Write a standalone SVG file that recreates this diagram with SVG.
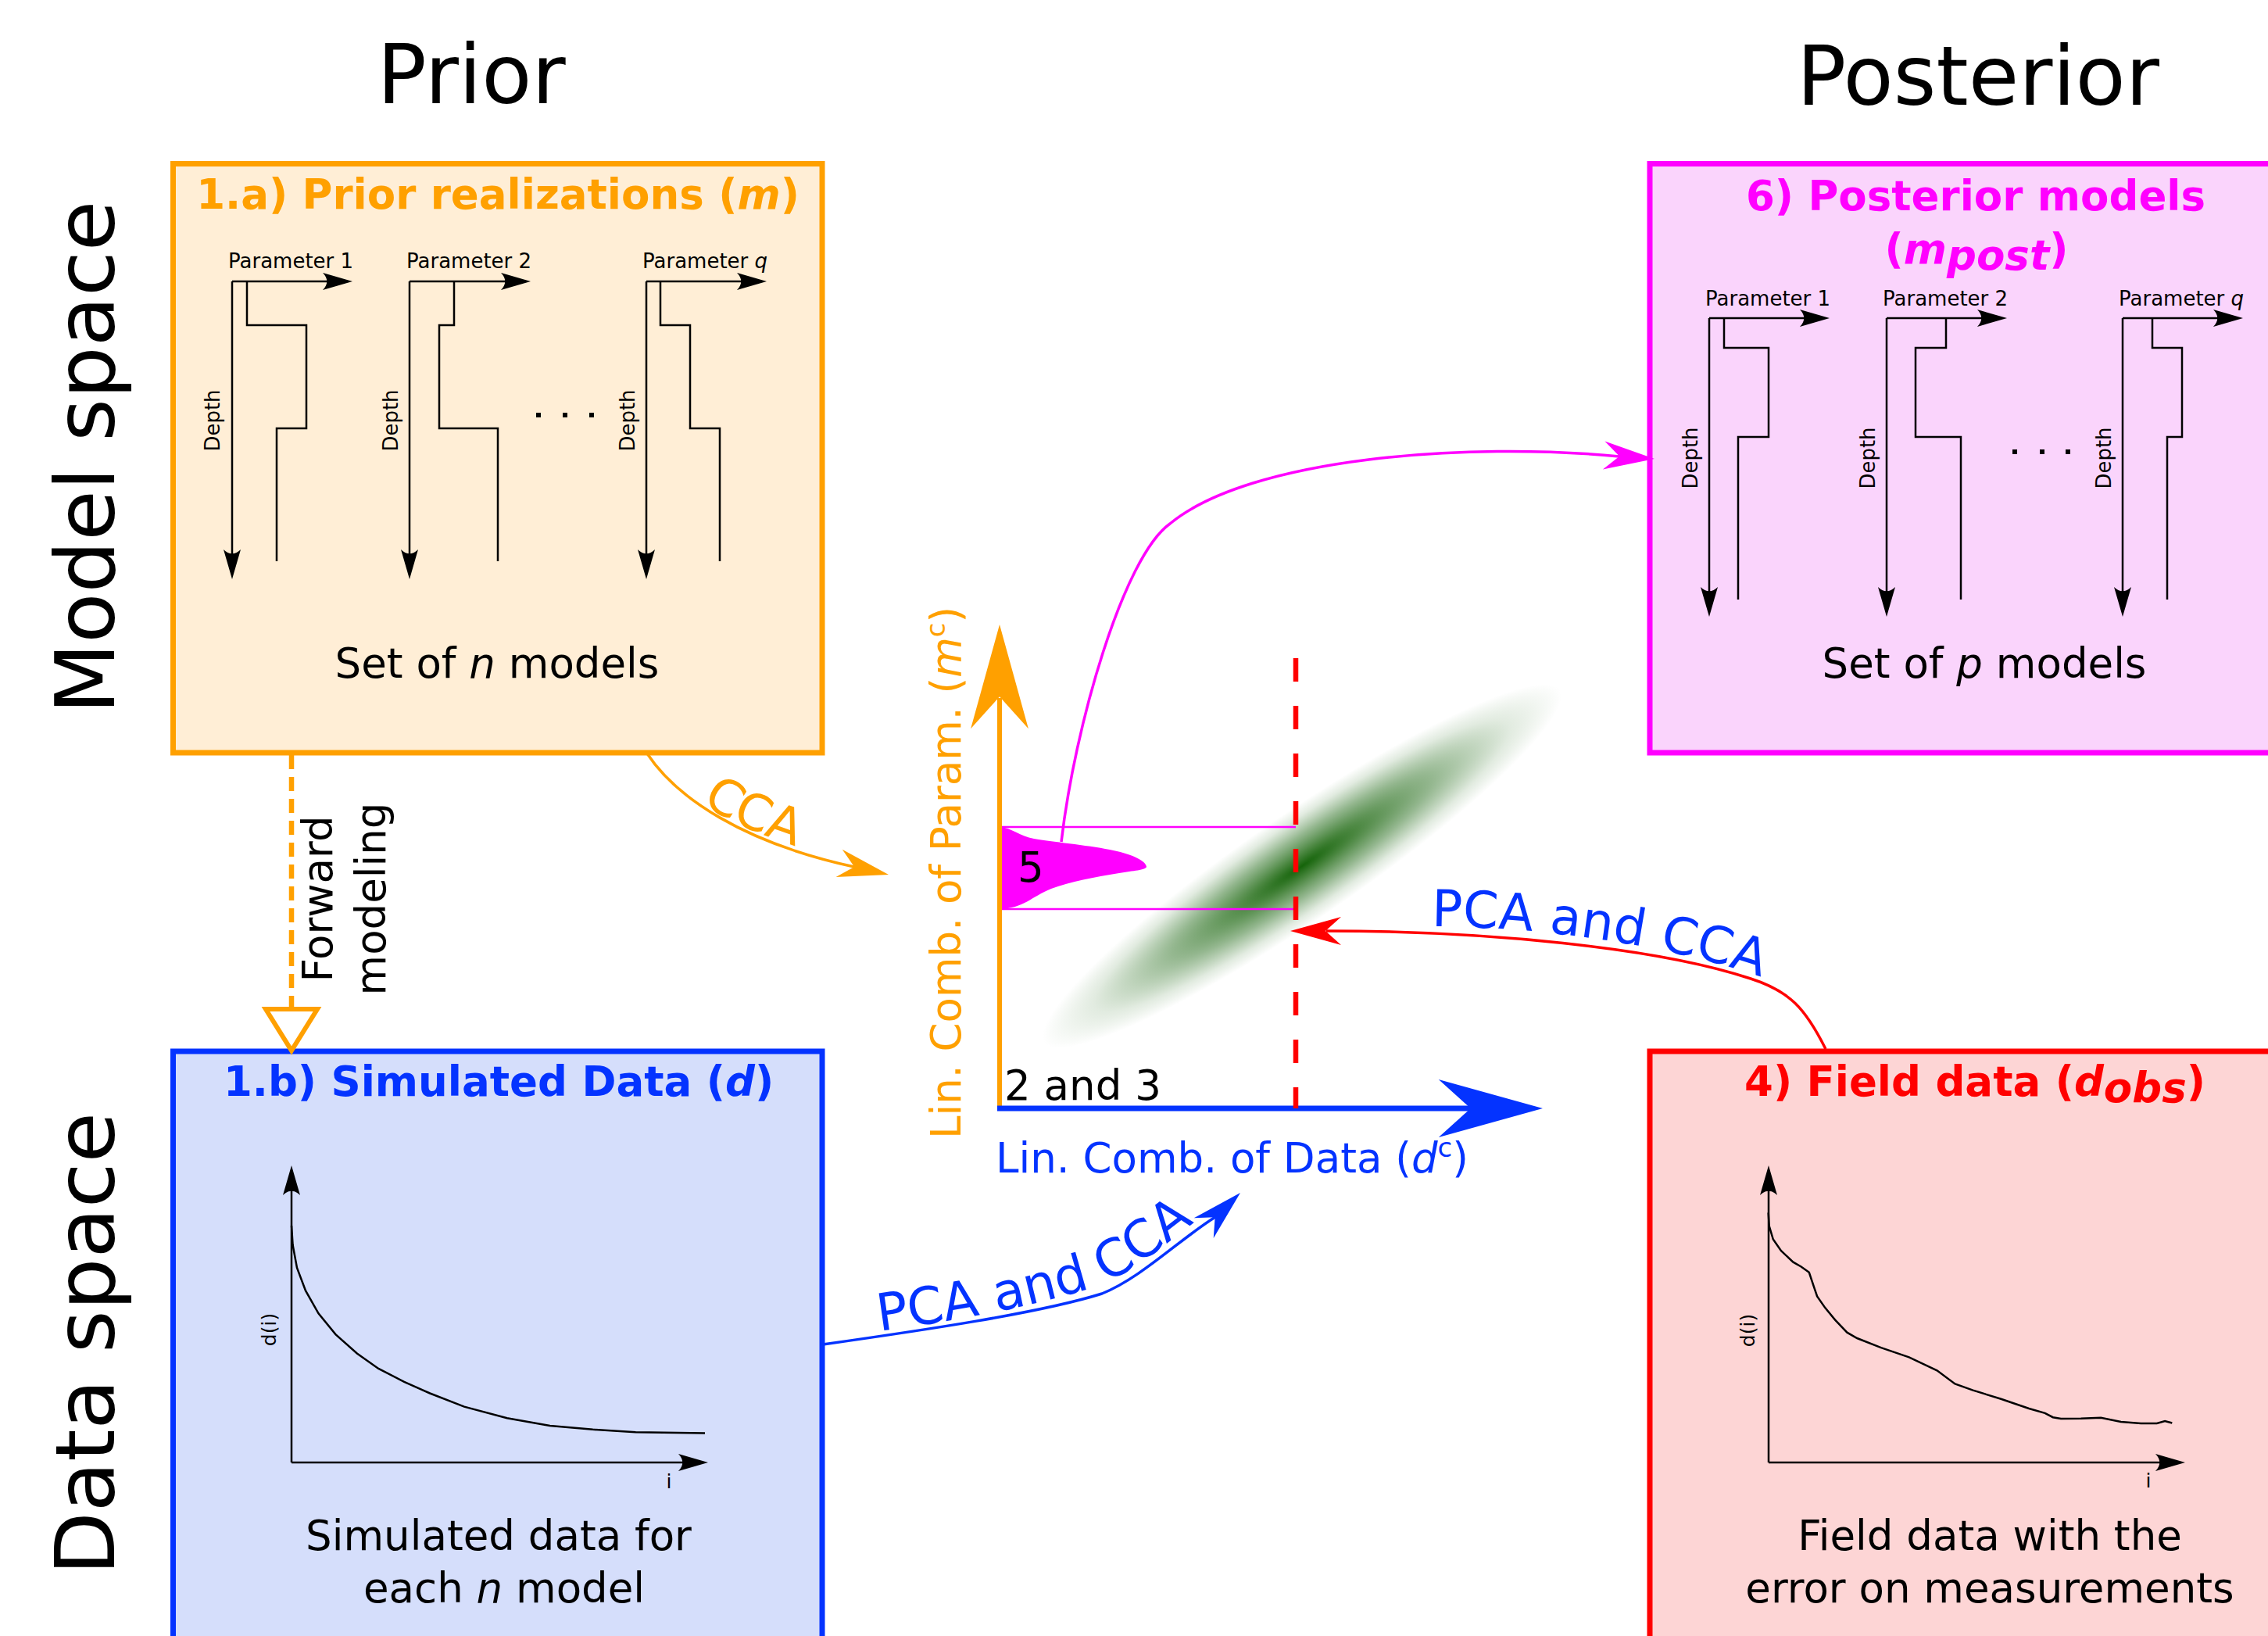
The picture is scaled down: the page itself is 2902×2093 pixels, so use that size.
<svg xmlns="http://www.w3.org/2000/svg" width="2902" height="2093" viewBox="0 0 2902 2093">
<style>
  text { font-family: "DejaVu Sans", "Liberation Sans", sans-serif; }
  .big { font-size: 105px; fill: #000; }
  .hdr { font-size: 53px; font-weight: bold; text-anchor: middle; }
  .body { font-size: 53px; fill: #000; }
  .lbl { font-size: 26px; fill: #000; }
  .tick { font-size: 25px; fill: #000; }
  .ln { fill: none; stroke: #000; stroke-width: 2.5; }
  .arr { fill: none; stroke: #000; stroke-width: 2.5; marker-end: url(#ah); }
  .box { stroke-width: 7; }
  .orange { fill: #ffa000; }
  .blue { fill: #0433ff; }
  .red { fill: #ff0000; }
  .mag { fill: #ff00ff; }
  .it { font-style: italic; }
</style>
<defs>
  <!-- small black arrowhead for chart axes -->
  <marker id="ah" markerUnits="userSpaceOnUse" orient="auto" viewBox="-40 -15 40 30" markerWidth="40" markerHeight="30" refX="-8" refY="0">
    <path d="M0,0 L-38,-11 C-31,-4 -31,4 -38,11 Z" fill="#000"/>
  </marker>
  <!-- large connector arrowhead, tip at origin pointing +x -->
  <path id="head" d="M0,0 L-65,-18 L-45,0 L-65,18 Z"/>
  <radialGradient id="cloud" cx="0.5" cy="0.5" r="0.5">
    <stop offset="0" stop-color="#15640a" stop-opacity="1"/>
    <stop offset="0.2" stop-color="#1c680f" stop-opacity="0.8"/>
    <stop offset="0.5" stop-color="#2a7020" stop-opacity="0.5"/>
    <stop offset="0.8" stop-color="#3a7a30" stop-opacity="0.15"/>
    <stop offset="1" stop-color="#3a7a30" stop-opacity="0"/>
  </radialGradient>
  <path id="tpOrange" d="M898,1026 C925,1048 960,1063 1016,1082 L1090,1104"/>
  <path id="tpBlue" d="M1125,1703 C1250,1686 1340,1666 1405,1645 C1450,1628 1490,1592 1540,1555"/>
  <path id="tpRed" d="M1832,1185 C1960,1186 2110,1204 2236,1244 L2300,1272"/>
</defs>

<rect x="0" y="0" width="2902" height="2093" fill="#fff"/>

<!-- column and row headings -->
<g id="headings">
  <text class="big" x="603" y="132" text-anchor="middle">Prior</text>
  <text class="big" x="2531" y="134" text-anchor="middle">Posterior</text>
  <text class="big" transform="translate(146,585) rotate(-90)" text-anchor="middle">Model space</text>
  <text class="big" transform="translate(146,1719) rotate(-90)" text-anchor="middle">Data space</text>
</g>

<!-- 1.a prior realizations -->
<g id="prior-realizations">
  <rect class="box" x="221.5" y="209.5" width="830.5" height="753.5" fill="#ffeed6" stroke="#ffa000"/>
  <text class="hdr orange" x="637" y="267">1.a) Prior realizations (<tspan class="it">m</tspan>)</text>
  <text class="lbl" x="292" y="343">Parameter 1</text>
  <text class="lbl" x="520" y="343">Parameter 2</text>
  <text class="lbl" x="822" y="343">Parameter <tspan class="it">q</tspan></text>
  <path class="arr" d="M297,360 H443"/>
  <path class="arr" d="M297,360 V733"/>
  <path class="arr" d="M524,360 H671"/>
  <path class="arr" d="M524,360 V733"/>
  <path class="arr" d="M827,360 H973"/>
  <path class="arr" d="M827,360 V733"/>
  <path class="ln" d="M316,360 V416 H392 V548 H354 V718"/>
  <path class="ln" d="M581,360 V416 H562 V548 H637 V718"/>
  <path class="ln" d="M845,360 V416 H883 V548 H921 V718"/>
  <text class="lbl" transform="translate(281,538) rotate(-90)" text-anchor="middle">Depth</text>
  <text class="lbl" transform="translate(509,538) rotate(-90)" text-anchor="middle">Depth</text>
  <text class="lbl" transform="translate(812,538) rotate(-90)" text-anchor="middle">Depth</text>
  <rect x="686" y="528" width="6" height="6"/>
  <rect x="720" y="528" width="6" height="6"/>
  <rect x="754" y="528" width="6" height="6"/>
  <text class="body" x="636" y="867" text-anchor="middle">Set of <tspan class="it">n</tspan> models</text>
</g>

<!-- 6 posterior models -->
<g id="posterior-models">
  <rect class="box" x="2111" y="209.5" width="820" height="753.5" fill="#fad4fc" stroke="#ff00ff"/>
  <text class="hdr mag" x="2528" y="269">6) Posterior models</text>
  <text class="hdr mag" x="2529" y="337">(<tspan class="it">m</tspan><tspan class="it" dy="8">post</tspan><tspan dy="-8">)</tspan></text>
  <text class="lbl" x="2182" y="391">Parameter 1</text>
  <text class="lbl" x="2409" y="391">Parameter 2</text>
  <text class="lbl" x="2711" y="391">Parameter <tspan class="it">q</tspan></text>
  <path class="arr" d="M2187,407 H2333"/>
  <path class="arr" d="M2187,407 V781"/>
  <path class="arr" d="M2414,407 H2560"/>
  <path class="arr" d="M2414,407 V781"/>
  <path class="arr" d="M2716,407 H2862"/>
  <path class="arr" d="M2716,407 V781"/>
  <path class="ln" d="M2206,407 V445 H2263 V559 H2224 V767"/>
  <path class="ln" d="M2490,407 V445 H2451 V559 H2509 V767"/>
  <path class="ln" d="M2754,407 V445 H2792 V559 H2773 V767"/>
  <text class="lbl" transform="translate(2172,586) rotate(-90)" text-anchor="middle">Depth</text>
  <text class="lbl" transform="translate(2399,586) rotate(-90)" text-anchor="middle">Depth</text>
  <text class="lbl" transform="translate(2701,586) rotate(-90)" text-anchor="middle">Depth</text>
  <rect x="2575" y="575" width="6" height="6"/>
  <rect x="2610" y="575" width="6" height="6"/>
  <rect x="2643" y="575" width="6" height="6"/>
  <text class="body" x="2539" y="867" text-anchor="middle">Set of <tspan class="it">p</tspan> models</text>
</g>

<!-- 1.b simulated data -->
<g id="simulated-data">
  <rect class="box" x="221.5" y="1345" width="830.5" height="800" fill="#d5defb" stroke="#0433ff"/>
  <text class="hdr blue" x="638" y="1402">1.b) Simulated Data (<tspan class="it">d</tspan>)</text>
  <path class="arr" d="M373,1871 V1499"/>
  <path class="arr" d="M373,1871 H898"/>
  <polyline class="ln" points="373,1568 374.6,1592.8 380,1622 391,1651.2 407.5,1680.4 429.4,1707.1 456.8,1731.4 484.3,1750.9 517.2,1767.9 550.1,1782.5 594,1799.6 648.8,1814.2 703.7,1823.9 758.5,1828.8 813.3,1832.2 902,1833.6"/>
  <text class="tick" transform="translate(353,1701) rotate(-90)" text-anchor="middle">d(i)</text>
  <text class="tick" x="856" y="1904" text-anchor="middle">i</text>
  <text class="body" x="638" y="1983" text-anchor="middle">Simulated data for</text>
  <text class="body" x="645" y="2050" text-anchor="middle">each <tspan class="it">n</tspan> model</text>
</g>

<!-- 4 field data -->
<g id="field-data">
  <rect class="box" x="2111" y="1345" width="820" height="800" fill="#fdd5d5" stroke="#ff0000"/>
  <text class="hdr red" x="2527" y="1402">4) Field data (<tspan class="it">d</tspan><tspan class="it" dy="8">obs</tspan><tspan dy="-8">)</tspan></text>
  <path class="arr" d="M2263,1871 V1499"/>
  <path class="arr" d="M2263,1871 H2788"/>
  <polyline class="ln" points="2262.7,1551.4 2263.7,1568.4 2268.8,1585.5 2279,1600.1 2294.4,1614.7 2304.6,1620.5 2314.8,1627.8 2321,1646.3 2325.1,1658.5 2335.3,1673.1 2348.1,1688.6 2363.4,1704.7 2376.2,1712 2406.9,1724.1 2442.7,1736.3 2478.5,1753.3 2501.5,1770.4 2524.5,1778.6 2560.4,1789.8 2596.2,1802 2616.6,1807.8 2626.8,1813.2 2637.1,1815.1 2662.7,1814.7 2688.2,1813.7 2713.8,1819 2739.4,1821 2759.8,1821 2770.1,1818 2779.3,1820.5"/>
  <text class="tick" transform="translate(2245,1702) rotate(-90)" text-anchor="middle">d(i)</text>
  <text class="tick" x="2749" y="1903" text-anchor="middle">i</text>
  <text class="body" x="2546" y="1983" text-anchor="middle">Field data with the</text>
  <text class="body" x="2546" y="2050" text-anchor="middle">error on measurements</text>
</g>

<!-- canonical space: scatter cloud, axes, conditional distribution -->
<g id="cca-plot">
  <ellipse cx="1666" cy="1108" rx="400" ry="68" fill="url(#cloud)" transform="rotate(-34.4 1666 1108)"/>
  <path d="M1279,1058 H1658 M1279,1163 H1658" fill="none" stroke="#ff00ff" stroke-width="2.5"/>
  <path class="mag" d="M1279,1058 C1295,1059 1305,1070 1323,1073 C1345,1077 1390,1081 1420,1087 C1445,1092 1466,1100 1467,1109 C1466,1113 1450,1114 1432,1117 C1400,1122 1370,1128 1345,1137 C1320,1147 1310,1162 1279,1163 Z"/>
  <text class="body" x="1302" y="1128">5</text>
  <path d="M1279,1418 V893" fill="none" stroke="#ffa000" stroke-width="6"/>
  <use href="#head" class="orange" transform="translate(1279,799) rotate(-90) scale(2.05)"/>
  <path d="M1276,1418 H1882" fill="none" stroke="#0433ff" stroke-width="7"/>
  <use href="#head" class="blue" transform="translate(1974,1418) scale(2.05)"/>
  <path d="M1658,842 V1418" fill="none" stroke="#ff0000" stroke-width="6.5" stroke-dasharray="30 31"/>
  <text class="body" x="1285" y="1407">2 and 3</text>
  <text class="body blue" x="1274" y="1500">Lin. Comb. of Data (<tspan class="it">d</tspan><tspan font-size="34" dy="-20">c</tspan><tspan dy="20">)</tspan></text>
  <text class="body orange" transform="translate(1229,1457) rotate(-90)">Lin. Comb. of Param. (<tspan class="it">m</tspan><tspan font-size="34" dy="-20">c</tspan><tspan dy="20">)</tspan></text>
</g>

<g id="connectors">
  <!-- forward modeling -->
  <path d="M373,966 V1289" fill="none" stroke="#ffa000" stroke-width="6.5" stroke-dasharray="18 10"/>
  <path d="M340,1291 H406 L373,1344 Z" fill="#fff" stroke="#ffa000" stroke-width="6" stroke-linejoin="miter"/>
  <text class="body" transform="translate(425,1150) rotate(-90)" text-anchor="middle">Forward<tspan x="0" dy="68">modeling</tspan></text>

  <!-- CCA from prior models -->
  <path d="M828,964 C865,1020 950,1078 1093,1109" fill="none" stroke="#ffa000" stroke-width="3.5"/>
  <use href="#head" class="orange" transform="translate(1137,1119) rotate(13)"/>
  <text font-size="64" class="orange"><textPath href="#tpOrange">CCA</textPath></text>

  <!-- PCA and CCA from simulated data -->
  <path d="M1053,1720 C1180,1702 1330,1680 1410,1655 C1460,1635 1510,1585 1555,1557" fill="none" stroke="#0433ff" stroke-width="3.5"/>
  <use href="#head" class="blue" transform="translate(1587,1526) rotate(-44)"/>
  <text font-size="66" class="blue"><textPath href="#tpBlue">PCA and CCA</textPath></text>

  <!-- PCA and CCA from field data -->
  <path d="M2336,1342 C2310,1290 2290,1268 2240,1252 C2120,1212 1900,1191 1697,1191" fill="none" stroke="#ff0000" stroke-width="3.5"/>
  <use href="#head" class="red" transform="translate(1651,1191) rotate(180)"/>
  <text font-size="65" class="blue"><textPath href="#tpRed">PCA and CCA</textPath></text>

  <!-- sampled posterior back to model space -->
  <path d="M1358,1077 C1375,930 1437,713 1497,670 C1600,585 1880,565 2072,584" fill="none" stroke="#ff00ff" stroke-width="3.5"/>
  <use href="#head" class="mag" transform="translate(2117,587) rotate(4)"/>
</g>
</svg>
